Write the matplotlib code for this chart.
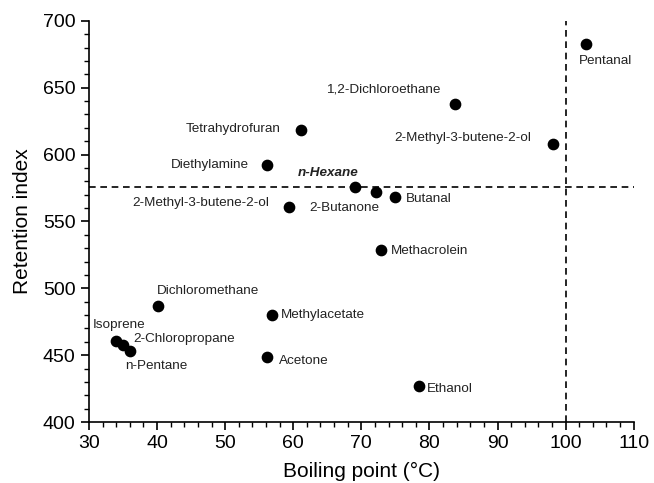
import matplotlib.pyplot as plt
from matplotlib.ticker import MultipleLocator

names = ["Pentanal", "1,2-Dichloroethane", "2-Methyl-3-butene-2-ol", "Tetrahydrofuran",
         "Diethylamine", "n-Hexane", "2-Butanone", "Butanal", "2-Methyl-3-butene-2-ol",
         "Methacrolein", "Dichloromethane", "Methylacetate", "Isoprene", "2-Chloropropane",
         "n-Pentane", "Acetone", "Ethanol"]
boiling = [103.0, 83.7, 98.1, 61.1, 56.2, 69.0, 72.1, 74.9, 59.4,
           72.9, 40.1, 56.9, 34.0, 35.0, 36.1, 56.2, 78.4]
retention = [683, 638, 608, 618, 592, 576, 572, 568, 561,
             529, 487, 480, 461, 458, 453, 449, 427]

# label offsets in points, alignment
offsets = [((-5.3, -12.7), "left"), ((-10.6, 10.3), "right"), ((-15.6, 4.3), "right"),
           ((-14.4, 1.4), "right"), ((-13.4, 0), "right"), ((2.6, 10), "right"),
           ((2.9, -11.5), "right"), ((7.9, -1.4), "left"), ((-14.6, 2.4), "right"),
           ((7.2, -1.4), "left"), ((-0.7, 10.8), "left"), ((6.5, 0), "left"),
           ((-16.8, 11.5), "left"), ((7.7, 3.9), "left"), ((-3.6, -10.8), "left"),
           ((8.4, -3.1), "left"), ((6.2, -1.9), "left")]

plt.rcParams["font.family"] = ["Liberation Sans", "DejaVu Sans"]

fig = plt.figure(figsize=(6.54, 4.83), dpi=100)
ax = fig.add_axes([0.136, 0.126, 0.833, 0.831])

ax.axhline(576, color="black", lw=1.2, ls=(0, (4, 2.8)), zorder=1)
ax.axvline(100, color="black", lw=1.2, ls=(0, (4, 2.8)), zorder=1)
ax.scatter(boiling, retention, s=55, color="black", zorder=3)

for n, bx, ry, (off, ha) in zip(names, boiling, retention, offsets):
    style = dict(fontsize=9.7)
    if n == "n-Hexane":
        style = dict(fontsize=9.7, fontweight="bold", fontstyle="italic")
    ax.annotate(n, (bx, ry), xytext=off, textcoords="offset points",
                ha=ha, va="center", color="#222222", **style)

ax.set_xlim(30, 110)
ax.set_ylim(400, 700)
ax.xaxis.set_major_locator(MultipleLocator(10))
ax.xaxis.set_minor_locator(MultipleLocator(2))
ax.yaxis.set_major_locator(MultipleLocator(50))
ax.yaxis.set_minor_locator(MultipleLocator(10))
ax.tick_params(which="major", length=6, width=1.2, labelsize=14)
ax.tick_params(which="minor", length=3.5, width=1)
for s in ["top", "right"]:
    ax.spines[s].set_visible(False)
for s in ["left", "bottom"]:
    ax.spines[s].set_linewidth(1.2)

ax.set_xlabel("Boiling point (°C)", fontsize=15, labelpad=7)
ax.set_ylabel("Retention index", fontsize=15, labelpad=8)

fig.savefig("out.png", dpi=100)
